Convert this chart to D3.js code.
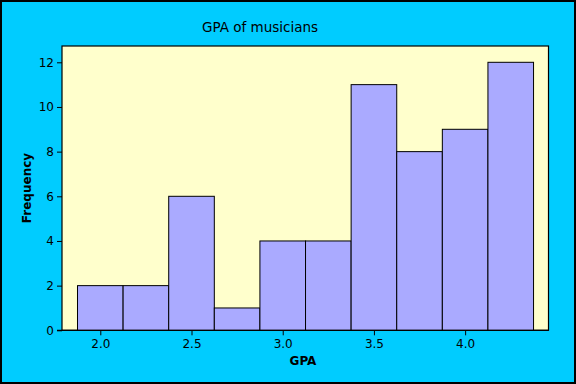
<!DOCTYPE html>
<html><head><meta charset="utf-8">
<script src="https://cdn.jsdelivr.net/npm/d3@7"></script>
<style>body{margin:0;padding:0;}svg{display:block;}</style>
</head><body>
<script>
const binStarts = [1.875, 2.125, 2.375, 2.625, 2.875, 3.125, 3.375, 3.625, 3.875, 4.125];
const binWidth = 0.25;
const counts = [2, 2, 6, 1, 4, 4, 11, 8, 9, 12];
const xTicks = [2.0, 2.5, 3.0, 3.5, 4.0];
const yTicks = [0, 2, 4, 6, 8, 10, 12];
const title = "GPA of musicians";
const xLabel = "GPA";
const yLabel = "Frequency";

const W = 576, H = 384;
const font = "DejaVu Sans, Verdana, sans-serif";
const svg = d3.select("body").append("svg").attr("width", W).attr("height", H);
svg.append("rect").attr("x", 1).attr("y", 1).attr("width", W - 2).attr("height", H - 2)
  .attr("fill", "#00CCFF").attr("stroke", "#000").attr("stroke-width", 2);

const L = 62, R = 548.5, T = 46, B = 330.3;
const x = d3.scaleLinear().domain([1.79, 4.457]).range([L, R]);
const y = d3.scaleLinear().domain([0, 12]).range([B, 62.3]);

svg.append("rect").attr("x", L).attr("y", T).attr("width", R - L).attr("height", B - T)
  .attr("fill", "#FFFFCC").attr("stroke", "#000").attr("stroke-width", 1.2);

svg.append("g").selectAll("rect").data(counts).join("rect")
  .attr("x", (d, i) => x(binStarts[i]))
  .attr("width", (d, i) => x(binStarts[i] + binWidth) - x(binStarts[i]))
  .attr("y", d => y(d))
  .attr("height", d => y(0) - y(d))
  .attr("fill", "#AAAAFF").attr("stroke", "#000").attr("stroke-width", 1);

const xAxis = svg.append("g").attr("transform", `translate(0,${B})`)
  .call(d3.axisBottom(x).tickValues(xTicks).tickFormat(d3.format(".1f")).tickSize(5).tickPadding(4));
const yAxis = svg.append("g").attr("transform", `translate(${L},0)`)
  .call(d3.axisLeft(y).tickValues(yTicks).tickSize(5).tickPadding(3));
[xAxis, yAxis].forEach(g => {
  g.select(".domain").remove();
  g.selectAll("line").attr("stroke", "#000");
  g.selectAll("text").attr("font-family", font).attr("font-size", 12).attr("fill", "#000");
});
svg.append("line").attr("x1", 57).attr("x2", R).attr("y1", B).attr("y2", B).attr("stroke", "#000").attr("stroke-width", 1.2);

svg.append("text").attr("x", 260).attr("y", 32).attr("text-anchor", "middle")
  .attr("font-family", font).attr("font-size", 13.5).text(title);
svg.append("text").attr("x", 303).attr("y", 365).attr("text-anchor", "middle")
  .attr("font-family", font).attr("font-size", 12).attr("font-weight", "bold").text(xLabel);
svg.append("text").attr("transform", "translate(31,188) rotate(-90)").attr("text-anchor", "middle")
  .attr("font-family", font).attr("font-size", 12).attr("font-weight", "bold").text(yLabel);
</script>
</body></html>
